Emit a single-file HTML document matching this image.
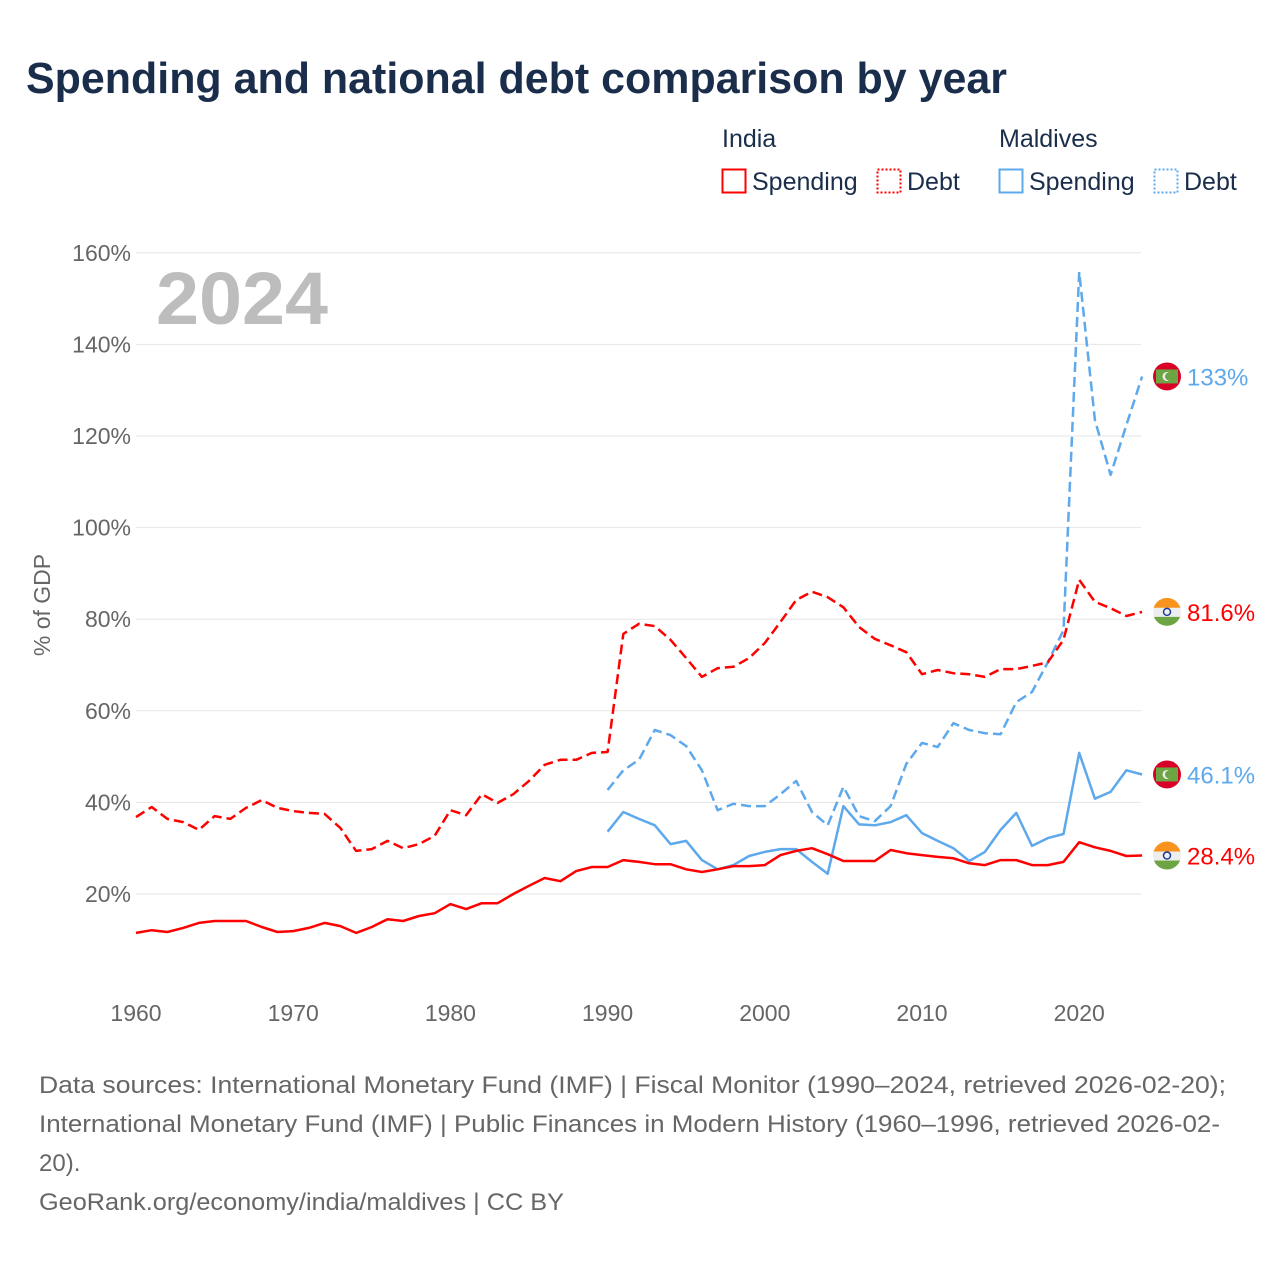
<!DOCTYPE html>
<html><head><meta charset="utf-8"><style>
body{margin:0;background:#fff;width:1280px;height:1280px;overflow:hidden;font-family:"Liberation Sans",sans-serif}
</style></head><body>
<svg id="chart" width="1280" height="1280" xmlns="http://www.w3.org/2000/svg">
<text x="26" y="93" font-size="44" font-weight="bold" fill="#1a2e4c" textLength="981" lengthAdjust="spacingAndGlyphs">Spending and national debt comparison by year</text>
<g font-size="25" fill="#1a2e4c">
<text x="722" y="147">India</text>
<text x="999" y="147">Maldives</text>
<g><rect x="722.5" y="169.5" width="23" height="23" fill="none" stroke="#f00" stroke-width="2"/><text x="752" y="190">Spending</text></g>
<g><rect x="877.5" y="169.5" width="23" height="23" fill="none" stroke="#f00" stroke-width="2" stroke-dasharray="2,2"/><text x="907" y="190">Debt</text></g>
<g><rect x="999.5" y="169.5" width="23" height="23" fill="none" stroke="#5ea8ec" stroke-width="2"/><text x="1029" y="190">Spending</text></g>
<g><rect x="1154.5" y="169.5" width="23" height="23" fill="none" stroke="#5ea8ec" stroke-width="2" stroke-dasharray="2,2"/><text x="1184" y="190">Debt</text></g>
</g>
<g id="grid"></g>
<text x="156" y="324" font-size="74" font-weight="bold" fill="#bdbdbd" textLength="172" lengthAdjust="spacingAndGlyphs">2024</text>
<text transform="translate(50,605) rotate(-90)" text-anchor="middle" font-size="23" fill="#666">% of GDP</text>
<g id="series"></g>
<g id="ends"></g>
<g font-size="24" fill="#666">
<text x="39" y="1093" textLength="1187" lengthAdjust="spacingAndGlyphs">Data sources: International Monetary Fund (IMF) | Fiscal Monitor (1990–2024, retrieved 2026-02-20);</text>
<text x="39" y="1132" textLength="1181" lengthAdjust="spacingAndGlyphs">International Monetary Fund (IMF) | Public Finances in Modern History (1960–1996, retrieved 2026-02-</text>
<text x="39" y="1171">20).</text>
<text x="39" y="1210" textLength="525" lengthAdjust="spacingAndGlyphs">GeoRank.org/economy/india/maldives | CC BY</text>
</g>
</svg>
<script>
const yTicks=[20,40,60,80,100,120,140,160];
const xTicks=[1960,1970,1980,1990,2000,2010,2020];
const indiaDebt=[36.8,39,36.4,35.7,34,37,36.4,38.8,40.5,38.8,38.1,37.7,37.5,34.4,29.4,29.8,31.6,30,30.9,32.7,38.3,37.2,41.8,39.9,41.8,44.7,48.2,49.3,49.3,50.8,51,76.8,79,78.5,75.5,71.5,67.4,69.3,69.6,71.5,74.8,79.4,84.2,86,84.8,82.6,78.3,75.7,74.3,72.8,68,68.9,68.2,68,67.4,69.1,69.1,69.8,70.6,75.5,88.6,83.8,82.4,80.7,81.6];
const indiaSpending=[11.5,12.1,11.7,12.6,13.7,14.1,14.1,14.1,12.8,11.7,11.9,12.6,13.7,13,11.5,12.8,14.5,14.1,15.2,15.8,17.8,16.7,18,18,20,21.8,23.5,22.8,25,25.9,25.9,27.4,27,26.5,26.5,25.4,24.8,25.4,26.1,26.1,26.3,28.5,29.4,30,28.7,27.2,27.2,27.2,29.6,28.9,28.5,28.1,27.8,26.7,26.3,27.4,27.4,26.3,26.3,27,31.3,30.2,29.4,28.3,28.4];
const maldivesDebt=[42.7,47,49.3,55.8,54.7,52.3,47,38.3,39.7,39.2,39.2,41.8,44.7,37.9,35,43.4,37,35.9,39.2,48.4,53,52.1,57.3,55.8,55.1,54.9,61.9,64.1,70.6,77.6,155.8,123.5,111.5,122.4,133];
const maldivesSpending=[33.6,37.9,36.4,35,30.9,31.6,27.4,25.4,26.3,28.3,29.2,29.8,29.8,27,24.4,39.2,35.2,35,35.7,37.2,33.3,31.6,30,27.2,29.2,34,37.7,30.5,32.2,33.1,50.8,40.8,42.3,47,46.1];
const endLabels=["81.6%","28.4%","133%","46.1%"];
const NS="http://www.w3.org/2000/svg";
const x=yr=>136+(yr-1960)*15.72;
const y=v=>985.6-v*4.58;
function mk(tag,attrs,parent){const e=document.createElementNS(NS,tag);for(const k in attrs)e.setAttribute(k,attrs[k]);parent.appendChild(e);return e;}
const grid=document.getElementById('grid');
yTicks.forEach(t=>{
 const l=mk('line',{x1:136,x2:1141,y1:y(t),y2:y(t),stroke:'#e6e6e6','stroke-width':1},grid);
 
 
 const tx=mk('text',{x:131,y:y(t)+8,'text-anchor':'end','font-size':23,fill:'#666'},grid);
 tx.textContent=t+'%';
 
 
});
xTicks.forEach(t=>{
 const tx=mk('text',{x:x(t),y:1021,'text-anchor':'middle','font-size':23,fill:'#666'},grid);
 tx.textContent=t;
 
 
});
const series=document.getElementById('series');
function line(data,start,color,dash,name){
 const pts=data.map((v,i)=>x(start+i).toFixed(1)+','+y(v).toFixed(1)).join(' ');
 const p=mk('polyline',{points:pts,fill:'none',stroke:color,'stroke-width':2.5,'stroke-linejoin':'round'},series);
 if(dash)p.setAttribute('stroke-dasharray','10,5');
 
 
}
line(maldivesDebt,1990,'#5ea8ec',true,'maldives-debt-line');
line(maldivesSpending,1990,'#5ea8ec',false,'maldives-spending-line');
line(indiaDebt,1960,'#f00',true,'india-debt-line');
line(indiaSpending,1960,'#f00',false,'india-spending-line');
const ends=document.getElementById('ends');
const endVals=[indiaDebt[64],indiaSpending[64],maldivesDebt[34],maldivesSpending[34]];
const endIndia=[true,true,false,false];
endVals.forEach((v,i)=>{
 const cy=y(v),g=mk('g',{},ends);
 
 
 const c=mk('clipPath',{id:'c'+i},g);mk('circle',{cx:1167,cy:cy,r:14},c);
 const cg=mk('g',{'clip-path':'url(#c'+i+')'},g);
 if(endIndia[i]){
  mk('rect',{x:1153,y:cy-14,width:28,height:10,fill:'#f7931e'},cg);
  mk('rect',{x:1153,y:cy-4,width:28,height:9,fill:'#eee'},cg);
  mk('rect',{x:1153,y:cy+5,width:28,height:10,fill:'#6da544'},cg);
  mk('circle',{cx:1167,cy:cy,r:3.5,fill:'none',stroke:'#1a3a9a','stroke-width':1.5},cg);
 }else{
  mk('rect',{x:1153,y:cy-14,width:28,height:28,fill:'#d80027'},cg);
  mk('rect',{x:1156,y:cy-7,width:22,height:14,fill:'#6da544'},cg);
  mk('circle',{cx:1167,cy:cy,r:4.5,fill:'#eee'},cg);
  mk('circle',{cx:1169,cy:cy,r:4,fill:'#6da544'},cg);
 }
 const t=mk('text',{x:1187,y:cy+9,'font-size':24,fill:endIndia[i]?'#f00':'#5ea8ec'},ends);
 t.textContent=endLabels[i];
 
 
});
</script>
</body></html>
